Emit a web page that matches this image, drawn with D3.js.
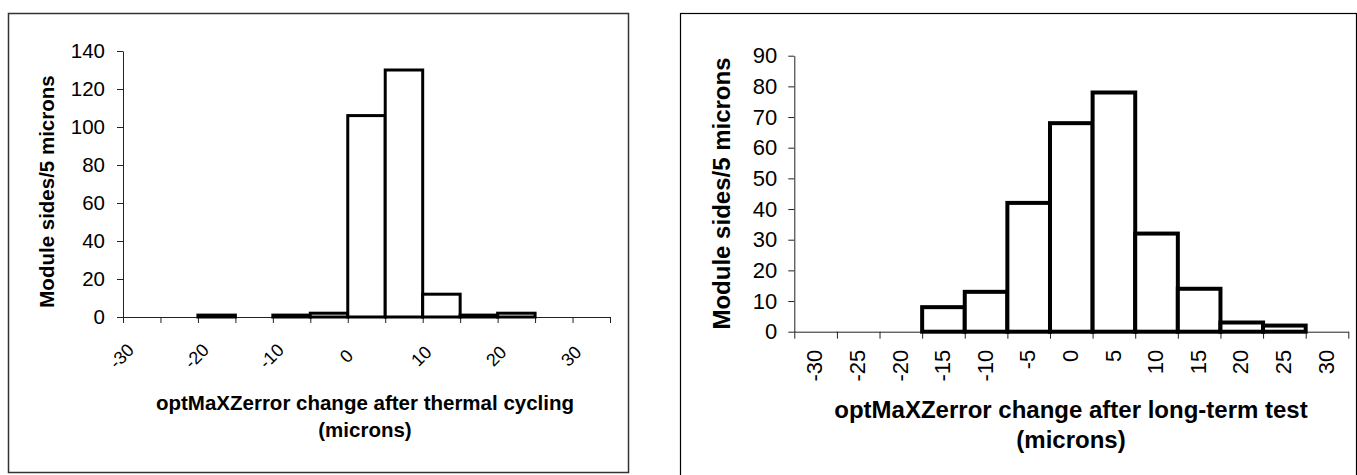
<!DOCTYPE html>
<html>
<head>
<meta charset="utf-8">
<script src="https://cdn.jsdelivr.net/npm/d3@7"></script>
<style>
  body { margin: 0; background: #fff; }
  svg { display: block; font-family: "Liberation Sans", Arial, sans-serif; }
</style>
</head>
<body>
<svg id="chart" width="1357" height="475"></svg>
<script>
// DATA - left panel (thermal cycling), bin start in microns
const thermalBins = [-30, -25, -20, -15, -10, -5, 0, 5, 10, 15, 20, 25, 30];
const thermalCounts = [0, 0, 1, 0, 1, 2, 106, 130, 12, 1, 2, 0, 0];
const thermalYTicks = [0, 20, 40, 60, 80, 100, 120, 140];
const thermalXLabels = [-30, -20, -10, 0, 10, 20, 30];

// DATA - right panel (long-term test), category labels
const longTermCats = ["-30", "-25", "-20", "-15", "-10", "-5", "0", "5", "10", "15", "20", "25", "30"];
const longTermCounts = [0, 0, 0, 8, 13, 42, 68, 78, 32, 14, 3, 2, 0];
const longTermYTicks = [0, 10, 20, 30, 40, 50, 60, 70, 80, 90];

const svg = d3.select("#chart");

// PANEL 1
function renderThermal() {
    svg.append("rect")
        .attr("x", 8.5).attr("y", 13.5)
        .attr("width", 620).attr("height", 459)
        .attr("fill", "#fff").attr("stroke", "#333").attr("stroke-width", 1.5);

    const x = d3.scaleLinear().domain([-30, 35]).range([123, 610]);
    const y = d3.scaleLinear().domain([0, 140]).range([317, 51]);

    const yAxis = svg.append("g")
        .attr("transform", "translate(123,0)")
        .call(d3.axisLeft(y).tickValues(thermalYTicks).tickSize(6).tickSizeOuter(0).tickPadding(12));
    yAxis.selectAll("text").style("font-size", "20.5px").attr("fill", "#000");

    const xAxis = svg.append("g")
        .attr("transform", "translate(0,317)")
        .call(d3.axisBottom(x).tickValues(d3.range(-30, 36, 5)).tickSize(6).tickSizeOuter(0)
            .tickFormat(d => thermalXLabels.includes(d) ? d : ""));
    xAxis.selectAll("text")
        .attr("y", null).attr("dy", ".35em")
        .attr("text-anchor", "middle")
        .attr("transform", "translate(-2,39) rotate(-45)")
        .style("font-size", "18px").attr("fill", "#000");

    [yAxis, xAxis].forEach(a => a.selectAll("path, line").attr("stroke", "#222"));

    // bars (empty bins are not drawn)
    svg.append("g").selectAll("rect")
        .data(thermalBins.map((b, i) => ({bin: b, count: thermalCounts[i]})).filter(d => d.count > 0))
        .join("rect")
        .attr("x", d => x(d.bin))
        .attr("y", d => y(d.count))
        .attr("width", d => x(d.bin + 5) - x(d.bin))
        .attr("height", d => y(0) - y(d.count))
        .attr("fill", "#fff").attr("stroke", "#000").attr("stroke-width", 3);

    svg.append("text")
        .attr("transform", "translate(47,191.5) rotate(-90)")
        .attr("text-anchor", "middle").attr("dy", ".35em")
        .style("font-size", "20.5px").style("font-weight", "bold")
        .text("Module sides/5 microns");

    const t = svg.append("text").attr("text-anchor", "middle")
        .style("font-size", "20.5px").style("font-weight", "bold");
    t.append("tspan").attr("x", 365).attr("y", 410).text("optMaXZerror change after thermal cycling");
    t.append("tspan").attr("x", 365).attr("y", 437).text("(microns)");
}

// PANEL 2
function renderLongTerm() {
    svg.append("rect")
        .attr("x", 680.5).attr("y", 13.5)
        .attr("width", 676).attr("height", 470)
        .attr("fill", "#fff").attr("stroke", "#000").attr("stroke-width", 1.2);

    const left = 794.3, right = 1348.3;
    const x = d3.scaleBand().domain(longTermCats).range([left, right]).padding(0);
    const xi = d3.scaleLinear().domain([0, longTermCats.length]).range([left, right]);
    const y = d3.scaleLinear().domain([0, 90]).range([331.7, 55.7]);

    const yAxis = svg.append("g")
        .attr("transform", `translate(${left},0)`)
        .call(d3.axisLeft(y).tickValues(longTermYTicks).tickSize(6).tickSizeOuter(0).tickPadding(11));
    yAxis.selectAll("text").style("font-size", "22px").attr("fill", "#000");

    // tick marks on the bin boundaries
    const xTicks = svg.append("g")
        .attr("transform", `translate(0,${y(0)})`)
        .call(d3.axisBottom(xi).tickValues(d3.range(0, longTermCats.length + 1)).tickSize(7).tickSizeOuter(0).tickFormat(""));

    // labels at the bin centres
    const xLabels = svg.append("g")
        .attr("transform", `translate(0,${y(0)})`)
        .call(d3.axisBottom(x).tickSize(0));
    xLabels.select(".domain").remove();
    xLabels.selectAll("text")
        .attr("y", null).attr("dy", ".35em")
        .attr("text-anchor", "end")
        .attr("transform", "translate(-1,18) rotate(-90)")
        .style("font-size", "22px").attr("fill", "#000");

    [yAxis, xTicks].forEach(a => a.selectAll("path, line").attr("stroke", "#222"));

    svg.append("g").selectAll("rect")
        .data(longTermCats.map((c, i) => ({cat: c, count: longTermCounts[i]})).filter(d => d.count > 0))
        .join("rect")
        .attr("x", d => x(d.cat))
        .attr("y", d => y(d.count))
        .attr("width", x.bandwidth())
        .attr("height", d => y(0) - y(d.count))
        .attr("fill", "#fff").attr("stroke", "#000").attr("stroke-width", 4);

    svg.append("text")
        .attr("transform", "translate(722,193.5) rotate(-90)")
        .attr("text-anchor", "middle").attr("dy", ".35em")
        .style("font-size", "24px").style("font-weight", "bold")
        .text("Module sides/5 microns");

    const t = svg.append("text").attr("text-anchor", "middle")
        .style("font-size", "24px").style("font-weight", "bold");
    t.append("tspan").attr("x", 1071).attr("y", 418).text("optMaXZerror change after long-term test");
    t.append("tspan").attr("x", 1071).attr("y", 448).text("(microns)");
}

renderThermal();
renderLongTerm();
</script>
</body>
</html>
